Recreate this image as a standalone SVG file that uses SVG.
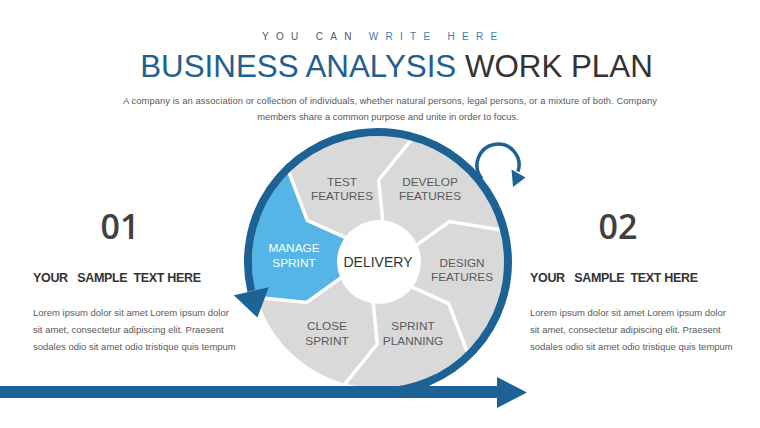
<svg xmlns="http://www.w3.org/2000/svg" width="760" height="428" viewBox="0 0 760 428">
<defs>
<style>
text{font-family:"Liberation Sans",Arial,sans-serif}
.lbl{font-size:11.8px;fill:#595959;text-anchor:middle}
.wlbl{font-size:11.8px;fill:#ffffff;text-anchor:middle}
.body{font-size:9.5px;fill:#595959}
.head{font-size:12.5px;font-weight:bold;fill:#333333;white-space:pre}
.num{font-family:"Open Sans","Liberation Sans",sans-serif;font-size:34px;font-weight:600;fill:#404040;text-anchor:middle}
.sep{fill:none;stroke:#ffffff;stroke-width:3.5;stroke-linejoin:miter}
.dk{fill:#1c6295}
</style>
</defs>
<rect width="760" height="428" fill="#ffffff"/>

<g id="header">
<text x="262" y="40" font-size="10" letter-spacing="7.3"><tspan fill="#595959">YOU CAN </tspan><tspan fill="#3a7db0">WRITE HERE</tspan></text>
<text x="396.5" y="77" font-size="31.3" text-anchor="middle"><tspan fill="#1f6091">BUSINESS ANALYSIS</tspan><tspan fill="#333333"> WORK PLAN</tspan></text>
<text x="390" y="104" font-size="9.4" fill="#595959" text-anchor="middle" textLength="534" lengthAdjust="spacing">A company is an association or collection of individuals, whether natural persons, legal persons, or a mixture of both. Company</text>
<text x="388" y="120" font-size="9.4" fill="#595959" text-anchor="middle">members share a common purpose and unite in order to focus.</text>
</g>

<g id="left-block">
<text class="num" x="120" y="239">01</text>
<text class="head" x="33" y="282" textLength="168" lengthAdjust="spacing">YOUR   SAMPLE  TEXT HERE</text>
<text class="body" x="33" y="316">Lorem ipsum dolor sit amet Lorem ipsum dolor</text>
<text class="body" x="33" y="333">sit amet, consectetur adipiscing elit. Praesent</text>
<text class="body" x="33" y="350">sodales odio sit amet odio tristique quis tempum</text>
</g>

<g id="right-block">
<text class="num" x="618" y="239">02</text>
<text class="head" x="530" y="282" textLength="168" lengthAdjust="spacing">YOUR   SAMPLE  TEXT HERE</text>
<text class="body" x="530" y="316">Lorem ipsum dolor sit amet Lorem ipsum dolor</text>
<text class="body" x="530" y="333">sit amet, consectetur adipiscing elit. Praesent</text>
<text class="body" x="530" y="350">sodales odio sit amet odio tristique quis tempum</text>
</g>

<g id="wheel">
<circle cx="378" cy="262" r="126" fill="#d9d9d9"/>
<g id="manage-sprint">
<path d="M341.2 277.6 L306.6 302.4 L256.9 296.7 A126 126 0 0 1 289.7 172.1 L307.3 220.4 L346.1 237.9 A40 40 0 0 0 341.2 277.6 Z" fill="#55b5e7"/>
</g>
<g id="separators">
<polyline class="sep" points="409.9,286.1 448.7,303.6 467.7,353.3"/>
<polyline class="sep" points="373.1,301.7 377.3,344.0 343.8,385.3"/>
<polyline class="sep" points="341.2,277.6 306.6,302.4 254.9,297.3"/>
<polyline class="sep" points="346.1,237.9 307.3,220.4 288.3,170.7"/>
<polyline class="sep" points="382.9,222.3 378.7,180.0 412.2,138.7"/>
<polyline class="sep" points="414.8,246.4 449.4,221.6 501.9,229.9"/>
</g>
<g id="delivery">
<circle cx="379" cy="262" r="42" fill="#ffffff"/>
<text x="378" y="267" font-size="14" fill="#333333" text-anchor="middle">DELIVERY</text>
</g>
<g id="test-features"><text class="lbl" x="342" y="186">TEST</text><text class="lbl" x="342" y="200">FEATURES</text></g>
<g id="develop-features"><text class="lbl" x="430" y="186">DEVELOP</text><text class="lbl" x="430" y="200">FEATURES</text></g>
<g id="manage-label"><text class="wlbl" x="294" y="252">MANAGE</text><text class="wlbl" x="294" y="267">SPRINT</text></g>
<g id="design-features"><text class="lbl" x="462" y="267">DESIGN</text><text class="lbl" x="462" y="281">FEATURES</text></g>
<g id="close-sprint"><text class="lbl" x="327" y="330">CLOSE</text><text class="lbl" x="327" y="345">SPRINT</text></g>
<g id="sprint-planning"><text class="lbl" x="413" y="330">SPRINT</text><text class="lbl" x="413" y="345">PLANNING</text></g>
</g>

<g id="connectors">
<path d="M378 392 A130 130 0 1 0 251.3 291.2" fill="none" stroke="#1c6295" stroke-width="8"/>
<polygon class="dk" points="233.8,295.2 268.8,287.2 257.4,317.5"/>
<path d="M481.9 178.5 A21 21 0 1 1 518 171.5" fill="none" stroke="#1c6295" stroke-width="3.5"/>
<polygon class="dk" points="511.5,169.5 525.5,177.5 513,187"/>
<rect class="dk" x="0" y="386" width="498" height="12"/>
<polygon class="dk" points="497,377 527,392.5 497,408"/>
</g>
</svg>
